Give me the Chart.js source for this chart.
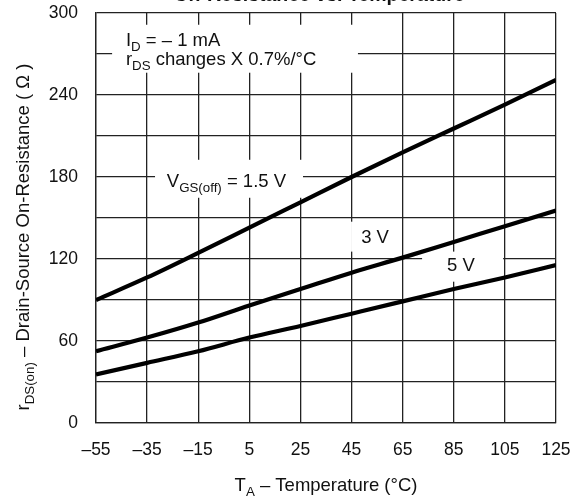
<!DOCTYPE html>
<html>
<head>
<meta charset="utf-8">
<script src="https://cdn.jsdelivr.net/npm/chart.js@4"></script>
<style>
html,body{margin:0;padding:0;background:#fff;}
#wrap{width:579px;height:498px;position:relative;}
</style>
</head>
<body>
<div id="wrap"><canvas id="c" width="579" height="498"></canvas></div>
<script>
// ---- data ----
const temperatures = [-55, -35, -15, 5, 25, 45, 65, 85, 105, 125];
const rds_vgs15 = [90, 106.5, 124.5, 143, 161.5, 180, 198, 215.5, 233, 251];
const rds_vgs3  = [52.5, 62.5, 73.5, 86, 98, 110, 121, 132.5, 144, 155.5];
const rds_vgs5  = [35.5, 44, 52.5, 62.5, 71, 80, 89, 98, 106.5, 115.5];
const xTicks = [-55, -35, -15, 5, 25, 45, 65, 85, 105, 125];
const yTicks = [0, 30, 60, 90, 120, 150, 180, 210, 240, 270, 300];
const yLabelTicks = [0, 60, 120, 180, 240, 300];

const FONT = "'Liberation Sans', Arial, Helvetica, sans-serif";

function toXY(xs, ys){ return xs.map((x,i)=>({x:x, y:ys[i]})); }

// draw text with subscript segments
function drawRich(ctx, segs, x, y, size, align){
  let total = 0;
  const widths = segs.map(s=>{
    ctx.font = (s.sub ? size*0.72 : size) + "px " + FONT;
    const w = ctx.measureText(s.t).width; total += w; return w;
  });
  let cx = align === 'center' ? x - total/2 : x;
  segs.forEach((s,i)=>{
    ctx.font = (s.sub ? size*0.72 : size) + "px " + FONT;
    ctx.fillText(s.t, cx, s.sub ? y + size*0.28 : y);
    cx += widths[i];
  });
  return total;
}

const annotations = [
  { box:[-48.7, 47.5, 291.4, 256.3], lines:[
      {x:-43.3, y:275.8, segs:[{t:'I'},{t:'D',sub:true},{t:' = \u2013 1 mA'}]},
      {x:-43.3, y:262.1, segs:[{t:'r'},{t:'DS',sub:true},{t:' changes X 0.7%/\u00B0C'}]} ]},
  { box:[-31.9, 26, 192.6, 164.8], lines:[
      {x:-27.3, y:172.6, segs:[{t:'V'},{t:'GS(off)',sub:true},{t:' = 1.5 V'}]} ]},
  { box:[44.8, 64.7, 147.3, 125.4], lines:[
      {x:54.2, y:131.9, center:true, segs:[{t:'3 V'}]} ]},
  { box:[72.6, 104.3, 125.4, 103.4], lines:[
      {x:87.8, y:111.4, center:true, segs:[{t:'5 V'}]} ]}
];

const annoPlugin = {
  id:'anno',
  beforeDatasetsDraw(chart){
    const ctx = chart.ctx, xs = chart.scales.x, ys = chart.scales.y;
    ctx.save();
    annotations.forEach(a=>{
      const x0 = xs.getPixelForValue(a.box[0]), x1 = xs.getPixelForValue(a.box[1]);
      const y0 = ys.getPixelForValue(a.box[2]), y1 = ys.getPixelForValue(a.box[3]);
      ctx.fillStyle = '#fff';
      ctx.fillRect(x0, y0, x1-x0, y1-y0);
      ctx.fillStyle = '#111';
      ctx.textBaseline = 'alphabetic';
      a.lines.forEach(l=>{
        drawRich(ctx, l.segs, xs.getPixelForValue(l.x), ys.getPixelForValue(l.y), 18.5, l.center?'center':'left');
      });
    });
    ctx.restore();
  },
  afterDraw(chart){
    const ctx = chart.ctx, ca = chart.chartArea;
    ctx.save();
    ctx.fillStyle = '#111';
    ctx.textBaseline = 'alphabetic';
    // title (cut off at the top edge)
    ctx.font = "bold 19.5px " + FONT;
    ctx.textAlign = 'center';
    ctx.fillText('On-Resistance vs. Temperature', 319, 1);
    ctx.textAlign = 'left';
    // x title
    drawRich(ctx, [{t:'T'},{t:'A',sub:true},{t:' \u2013 Temperature (\u00B0C)'}], (ca.left+ca.right)/2, 491, 18.5, 'center');
    // y title
    ctx.translate(29, 237);
    ctx.rotate(-Math.PI/2);
    drawRich(ctx, [{t:'r'},{t:'DS(on)',sub:true},{t:' \u2013 Drain-Source On-Resistance ( \u03A9 )'}], 0, 0, 18.5, 'center');
    ctx.restore();
  }
};

const lineStyle = {borderColor:'#000', borderWidth:4.2, pointRadius:0, fill:false, tension:0.3, cubicInterpolationMode:'monotone'};

new Chart(document.getElementById('c'), {
  type:'line',
  data:{ datasets:[
    Object.assign({label:'VGS(off) = 1.5 V', data:toXY(temperatures, rds_vgs15)}, lineStyle),
    Object.assign({label:'3 V', data:toXY(temperatures, rds_vgs3)}, lineStyle),
    Object.assign({label:'5 V', data:toXY(temperatures, rds_vgs5)}, lineStyle)
  ]},
  options:{
    responsive:false, animation:false,
    layout:{padding:{top:13, right:23, left:0, bottom:0}},
    plugins:{legend:{display:false}, tooltip:{enabled:false}, title:{display:false}},
    scales:{
      x:{ type:'linear', min:-55, max:125,
        afterBuildTicks(s){ s.ticks = xTicks.map(v=>({value:v})); },
        afterFit(s){ s.height = 75; s.paddingLeft = 0; s.paddingRight = 0; },
        grid:{color:'#222', lineWidth:1.3, drawTicks:false},
        border:{color:'#222', width:1.3},
        ticks:{color:'#111', font:{family:FONT, size:17.5}, padding:17, maxRotation:0, autoSkip:false,
          callback:v=> (v<0 ? '\u2013'+Math.abs(v) : ''+v)}
      },
      y:{ type:'linear', min:0, max:300,
        afterBuildTicks(s){ s.ticks = yTicks.map(v=>({value:v})); },
        afterFit(s){ s.width = 96; s.paddingTop = 0; s.paddingBottom = 0; },
        grid:{color:'#222', lineWidth:1.3, drawTicks:false},
        border:{color:'#222', width:1.3},
        ticks:{color:'#111', font:{family:FONT, size:17.5}, padding:18, autoSkip:false,
          callback:v=> yLabelTicks.includes(v) ? ''+v : ''}
      }
    }
  },
  plugins:[annoPlugin]
});
</script>
</body>
</html>
